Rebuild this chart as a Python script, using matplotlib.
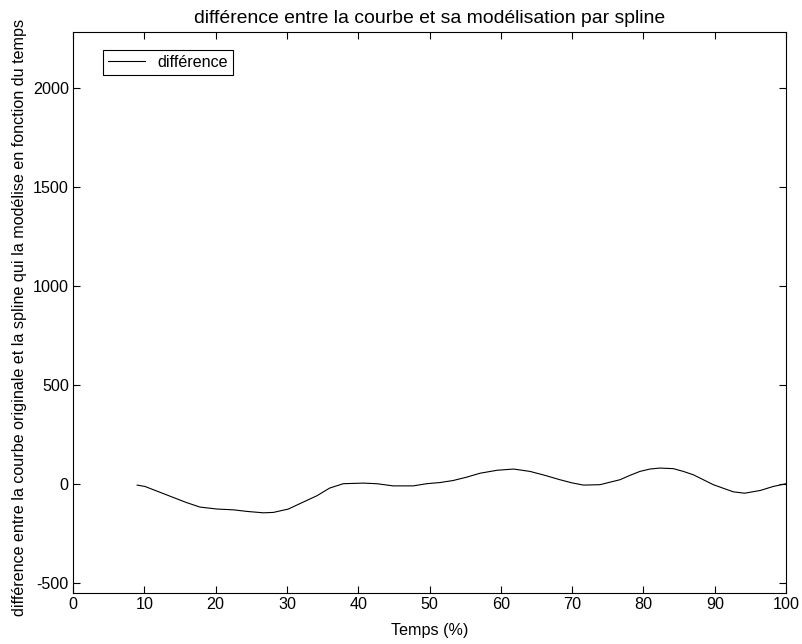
import matplotlib.pyplot as plt

plt.rcParams['font.family'] = ['Liberation Sans', 'DejaVu Sans']
plt.rcParams['font.size'] = 11.6
plt.rcParams['axes.unicode_minus'] = False

# temps (%) et différence
temps = [9.0, 10.1, 13.1, 15.9, 17.8, 20.2, 22.5, 24.4, 26.7, 28.1, 30.2,
         31.8, 34.2, 36.0, 37.9, 40.7, 42.6, 44.9, 47.7, 49.6, 51.5, 53.3,
         55.2, 57.1, 59.5, 61.8, 64.1, 66.2, 68.3, 70.0, 71.6, 73.9, 76.7,
         78.1, 79.5, 80.9, 82.3, 84.2, 85.6, 87.0, 89.8, 92.6, 94.2, 96.4,
         98.2, 100.0]
diff = [-5, -12, -54, -93, -116, -126, -130, -138, -145, -143, -126,
        -99, -59, -20, 2, 5, 2, -9, -9, 2, 8, 18,
        35, 55, 70, 76, 64, 44, 22, 6, -5, -3, 22,
        44, 64, 76, 81, 78, 64, 47, -3, -39, -46, -32,
        -12, 2]

xticks = list(range(0, 101, 10))
yticks = [-500, 0, 500, 1000, 1500, 2000]

fig = plt.figure(figsize=(8.03, 6.44), dpi=100)
ax = fig.add_axes([0.0909, 0.0792, 0.888, 0.8716])
ax.plot(temps, diff, color='black', linewidth=0.8, label='différence')

ax.set_xlim(0, 100)
ax.set_ylim(-550, 2285)
ax.set_xticks(xticks)
ax.set_yticks(yticks)
ax.tick_params(direction='in', top=True, right=True, length=5, width=0.8,
               pad=3)
for s in ax.spines.values():
    s.set_linewidth(0.8)

ax.set_title('différence entre la courbe et sa modélisation par spline', pad=6)
ax.set_xlabel('Temps (%)', labelpad=8)
ax.set_ylabel('différence entre la courbe originale et la spline qui la modélise en fonction du temps')
ax.yaxis.set_label_coords(-0.064, 0.491)

leg = ax.legend(loc='upper left', bbox_to_anchor=(0.042, 0.967), fancybox=False,
                edgecolor='black', framealpha=1, borderaxespad=0,
                handlelength=2.3, handletextpad=0.8, borderpad=0.3)
leg.get_frame().set_linewidth(0.8)

fig.savefig('out.png', dpi=100)
